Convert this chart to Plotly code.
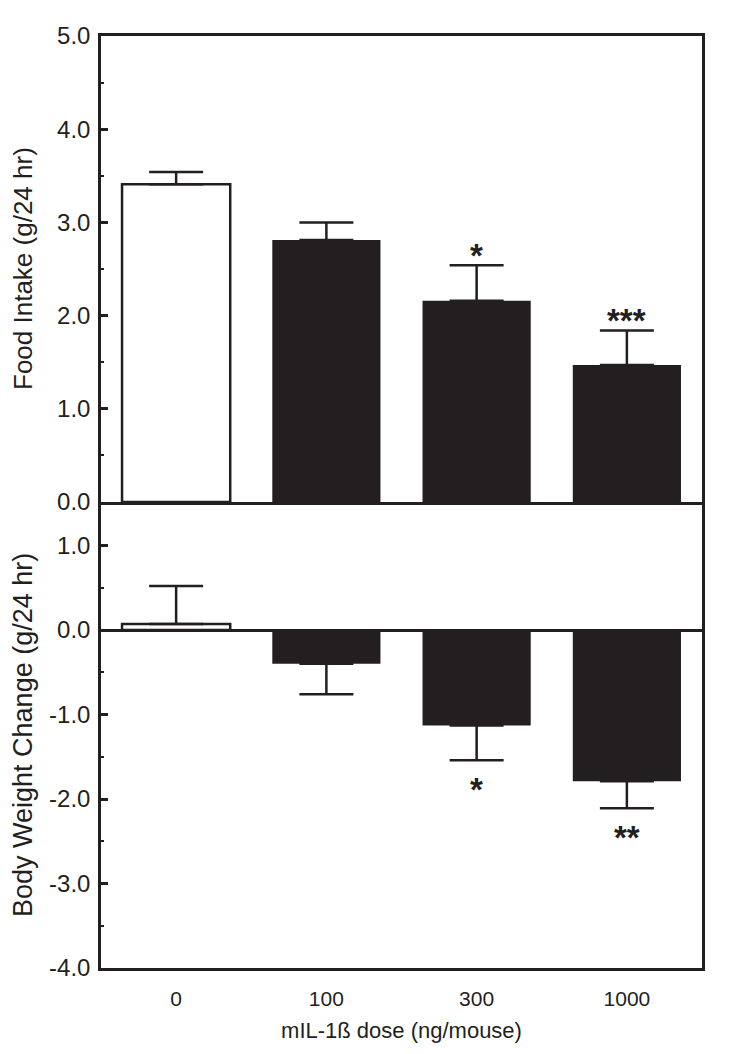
import plotly.graph_objects as go

doses = ["0", "100", "300", "1000"]
food_intake = [3.41, 2.81, 2.16, 1.47]
food_sem = [0.13, 0.19, 0.38, 0.37]
food_stars = ["", "", "*", "***"]

bw_change = [0.07, -0.40, -1.13, -1.79]
bw_sem_up = [0.45, 0.0, 0.0, 0.0]
bw_sem_down = [0.0, 0.36, 0.41, 0.32]
bw_stars = ["", "", "*", "**"]

top_ticks = [0, 1, 2, 3, 4, 5]
top_ticktext = ["0.0", "1.0", "2.0", "3.0", "4.0", "5.0"]
bot_ticks = [-4, -3, -2, -1, 0, 1]
bot_ticktext = ["-4.0", "-3.0", "-2.0", "-1.0", "0.0", "1.0"]

INK = "#231f20"
bar_fill = ["white", INK, INK, INK]
bar_edge = [2.5, 0, 0, 0]
FONT = "Liberation Sans, Arial, sans-serif"

fig = go.Figure()

fig.add_trace(go.Bar(
    x=doses, y=food_intake, xaxis="x2", yaxis="y",
    width=0.72,
    marker=dict(color=bar_fill, line=dict(color=INK, width=bar_edge)),
    error_y=dict(type="data", symmetric=False, array=food_sem,
                 arrayminus=[0] * 4, color=INK, thickness=2.5, width=27),
    showlegend=False,
))

fig.add_trace(go.Bar(
    x=doses, y=bw_change, xaxis="x", yaxis="y2",
    width=0.72,
    marker=dict(color=bar_fill, line=dict(color=INK, width=bar_edge)),
    error_y=dict(type="data", symmetric=False, array=bw_sem_up,
                 arrayminus=bw_sem_down, color=INK, thickness=2.5, width=27),
    showlegend=False,
))

annotations = []
for i, (m, e, s) in enumerate(zip(food_intake, food_sem, food_stars)):
    if s:
        annotations.append(dict(x=i, y=m + e, xref="x2", yref="y", text=s,
                                showarrow=False, yanchor="middle", yshift=10,
                                font=dict(family=FONT, size=33, color=INK,
                                          weight="bold")))
for i, (m, e, s) in enumerate(zip(bw_change, bw_sem_down, bw_stars)):
    if s:
        annotations.append(dict(x=i, y=m - e, xref="x", yref="y2", text=s,
                                showarrow=False, yanchor="middle", yshift=-29,
                                font=dict(family=FONT, size=33, color=INK,
                                          weight="bold")))

annotations.append(dict(text="Food Intake (g/24 hr)", xref="paper", yref="paper",
                        x=0, y=0.75, xshift=-78, textangle=-90, showarrow=False,
                        xanchor="center", yanchor="middle", borderpad=0,
                        font=dict(family=FONT, size=26, color=INK)))
annotations.append(dict(text="Body Weight Change (g/24 hr)", xref="paper", yref="paper",
                        x=0, y=0.25, xshift=-78, textangle=-90, showarrow=False,
                        xanchor="center", yanchor="middle", borderpad=0,
                        font=dict(family=FONT, size=27, color=INK)))

fig.update_layout(
    width=742, height=1046,
    margin=dict(l=93, r=48, t=28, b=86),
    paper_bgcolor="white", plot_bgcolor="white",
    annotations=annotations,
    xaxis=dict(showline=True, linecolor=INK, linewidth=2.5, mirror=False,
               showgrid=False, zeroline=False,
               type="category", categoryorder="array",
               categoryarray=doses, range=[-0.5, 3.5], anchor="y2",
               domain=[0, 1], ticks="", ticklabelstandoff=10,
               tickfont=dict(family=FONT, size=21, color=INK),
               title=dict(text="mIL-1ß dose (ng/mouse)", standoff=14,
                          font=dict(family=FONT, size=22, color=INK))),
    xaxis2=dict(showline=True, linecolor=INK, linewidth=2.5, mirror=True,
                showgrid=False, zeroline=False,
                type="category", categoryorder="array",
                categoryarray=doses, range=[-0.5, 3.5], anchor="y",
                matches="x", showticklabels=False, ticks=""),
    yaxis=dict(showline=True, linecolor=INK, linewidth=2.5, mirror=True,
               showgrid=False, zeroline=False,
               domain=[0.5, 1], anchor="x2", range=[0, 5],
               tickmode="array", tickvals=top_ticks, ticktext=top_ticktext,
               ticks="inside", ticklen=7, tickwidth=2.5, tickcolor=INK,
               ticklabelstandoff=3,
               tickfont=dict(family=FONT, size=24, color=INK),
               minor=dict(tickmode="array", tickvals=[0.5, 1.5, 2.5, 3.5, 4.5],
                          ticks="inside", ticklen=3, tickwidth=2, tickcolor=INK)),
    yaxis2=dict(showline=True, linecolor=INK, linewidth=2.5, mirror=True,
                showgrid=False, zeroline=True, zerolinecolor=INK, zerolinewidth=2.5,
                domain=[0, 0.5], anchor="x", range=[-4, 1.515],
                tickmode="array", tickvals=bot_ticks, ticktext=bot_ticktext,
                ticks="inside", ticklen=7, tickwidth=2.5, tickcolor=INK,
                ticklabelstandoff=3,
                tickfont=dict(family=FONT, size=24, color=INK),
                minor=dict(tickmode="array", tickvals=[-3.5, -2.5, -1.5, -0.5, 0.5],
                           ticks="inside", ticklen=3, tickwidth=2, tickcolor=INK)),
)

fig.write_html("out.html")
